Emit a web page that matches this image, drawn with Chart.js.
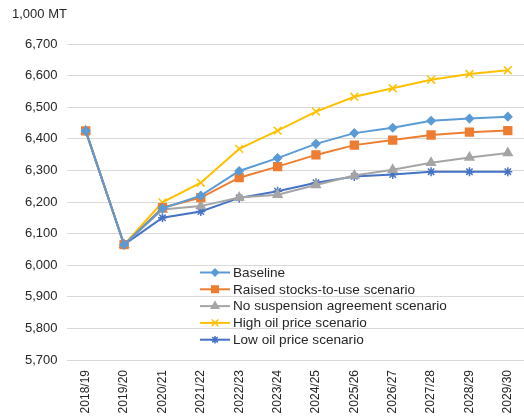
<!DOCTYPE html>
<html>
<head>
<meta charset="utf-8">
<script src="https://cdn.jsdelivr.net/npm/chart.js@4/dist/chart.umd.min.js"></script>
<style>
  html, body { margin: 0; padding: 0; background: #fff; overflow: hidden; }
  #wrap { width: 534px; height: 417px; }
</style>
</head>
<body>
<div id="wrap"><canvas id="c" width="534" height="417"></canvas></div>
<script>
// Marketing years on the x axis
const years = ['2018/19', '2019/20', '2020/21', '2021/22', '2022/23', '2023/24',
               '2024/25', '2025/26', '2026/27', '2027/28', '2028/29', '2029/30'];

// Projections, 1,000 metric tons
const baseline       = [6425, 6065, 6180, 6220, 6298, 6339, 6384, 6418, 6435, 6457, 6464, 6470];
const raisedStocks   = [6425, 6065, 6182, 6214, 6277, 6312, 6349, 6380, 6396, 6412, 6421, 6426];
const noSuspension   = [6425, 6065, 6176, 6187, 6214, 6223, 6254, 6284, 6302, 6324, 6341, 6355];
const highOilPrice   = [6425, 6065, 6199, 6261, 6368, 6426, 6486, 6533, 6560, 6587, 6605, 6617];
const lowOilPrice    = [6425, 6065, 6150, 6170, 6213, 6234, 6261, 6281, 6287, 6296, 6296, 6296];

const seriesNames = ['Baseline', 'Raised stocks-to-use scenario', 'No suspension agreement scenario',
                     'High oil price scenario', 'Low oil price scenario'];

const yMin = 5700, yMax = 6700, yStep = 100;
const unitLabel = '1,000 MT';

const FONT = '"Liberation Sans", Arial, sans-serif';
const TEXT = '#262626';

function ds(label, data, color, style, radius) {
  return {
    label, data,
    borderColor: color,
    backgroundColor: color,
    pointBackgroundColor: color,
    pointBorderColor: color,
    pointStyle: style,
    pointRadius: radius,
    pointBorderWidth: 1.5,
    borderWidth: 2,
    tension: 0
  };
}

const datasets = [
  ds(seriesNames[0], baseline,     '#5B9BD5', 'rectRot', 4),
  ds(seriesNames[1], raisedStocks, '#ED7D31', 'rect', 5.5),
  ds(seriesNames[2], noSuspension, '#A5A5A5', 'triangle', 5),
  ds(seriesNames[3], highOilPrice, '#FFC000', 'crossRot', 5.5),
  ds(seriesNames[4], lowOilPrice,  '#4472C4', 'star', 4.5)
];

// Legend box inside the plot area, plus the unit label above the y axis
const overlay = {
  id: 'overlay',
  afterDraw(chart) {
    const ctx = chart.ctx;
    ctx.save();
    ctx.fillStyle = TEXT;
    ctx.font = '13px ' + FONT;
    ctx.textBaseline = 'middle';
    ctx.textAlign = 'left';
    ctx.fillText(unitLabel, 12, 14);

    const x0 = 200, x1 = 230, tx = 233, y0 = 272.5, dy = 16.8;
    chart.data.datasets.forEach((d, i) => {
      const y = y0 + i * dy;
      ctx.strokeStyle = d.borderColor;
      ctx.lineWidth = 2;
      ctx.beginPath();
      ctx.moveTo(x0, y);
      ctx.lineTo(x1, y);
      ctx.stroke();
      ctx.fillStyle = d.backgroundColor;
      ctx.lineWidth = 1.5;
      Chart.helpers.drawPoint(ctx, {
        pointStyle: d.pointStyle,
        radius: d.pointRadius * 0.85,
        rotation: 0,
        borderWidth: 1.5
      }, (x0 + x1) / 2, y);
      ctx.fillStyle = TEXT;
      ctx.font = '13.6px ' + FONT;
      ctx.fillText(d.label, tx, y + 0.5);
    });
    ctx.restore();
  }
};

new Chart(document.getElementById('c'), {
  type: 'line',
  data: { labels: years, datasets },
  options: {
    responsive: false,
    animation: false,
    devicePixelRatio: 1,
    layout: { padding: { top: 44, left: 16, right: 2, bottom: 0 } },
    plugins: { legend: { display: false }, tooltip: { enabled: false } },
    scales: {
      x: {
        offset: true,
        grid: { display: false },
        border: { display: false },
        afterFit(scale) { scale.height = 57; },
        ticks: {
          color: TEXT, font: { family: FONT, size: 12 },
          minRotation: 90, maxRotation: 90, padding: 2, autoSkip: false
        }
      },
      y: {
        min: yMin, max: yMax,
        grid: { color: '#D9D9D9', lineWidth: 1, drawTicks: false },
        border: { display: false },
        ticks: {
          stepSize: yStep, padding: 9,
          color: TEXT, font: { family: FONT, size: 13 },
          callback: v => v.toLocaleString('en-US')
        }
      }
    }
  },
  plugins: [overlay]
});
</script>
</body>
</html>
